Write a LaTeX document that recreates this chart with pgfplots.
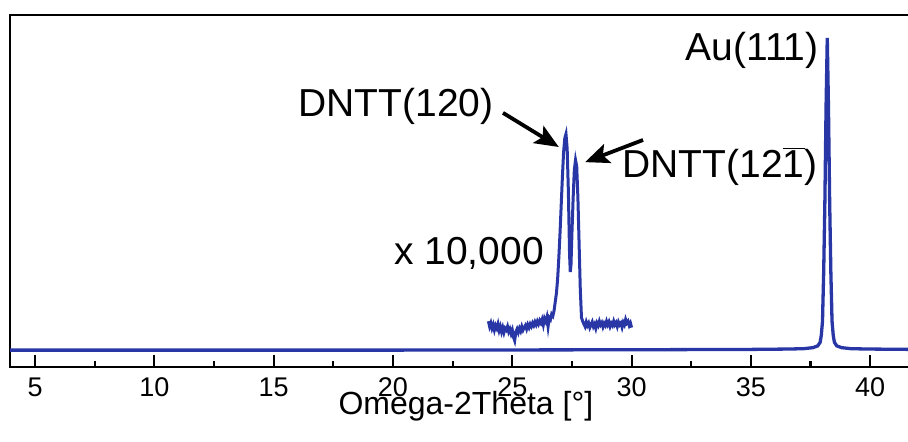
\documentclass[border=0pt]{standalone}
\usepackage{fontspec}
\setmainfont{Liberation Sans}
\usepackage{pgfplots}
\pgfplotsset{compat=1.18}
\usetikzlibrary{arrows.meta,calc}
\definecolor{XrdBlue}{RGB}{40,55,165}
\tikzset{
    annot/.style={font=\fontsize{19.5}{22}\selectfont, anchor=base},
    pointer/.style={-{Stealth[length=12pt,width=10pt,inset=2.5pt]}, line width=1.9pt},
}
\begin{document}
\begin{tikzpicture}
\begin{axis}[
    scale only axis,
    width=450.5pt, height=176pt,
    xmin=3.95, xmax=41.71, ymin=0, ymax=1,
    axis line style={line width=1.2pt},
    xtick={5,10,...,40}, minor x tick num=1,
    xtick pos=bottom, tick align=inside,
    ytick=\empty,
    major tick length=6pt, minor tick length=3pt,
    every tick/.style={black, line width=1.1pt},
    /pgf/number format/assume math mode=true,
    xticklabel={\mbox{\fontsize{13.5}{15}\selectfont\pgfmathprintnumber{\tick}}},
    xticklabel style={anchor=north, yshift=-2pt},
    xlabel={Omega-2Theta [°]},
    xlabel style={font=\fontsize{16}{19}\selectfont, at={(axis description cs:0.506,0)}, anchor=base, yshift=-23.5pt},
]
% full scan with Au(111)
\addplot[XrdBlue, line width=1.65pt] coordinates {
    (3.90,0.048) (10,0.048) (20,0.048) (30,0.049) (35,0.050) (36.5,0.051)
    (37.2,0.052) (37.6,0.055) (37.8,0.060) (37.9,0.070) (37.95,0.09)
    (38.0,0.13) (38.05,0.27) (38.1,0.47) (38.15,0.74) (38.2,0.935)
    (38.25,0.74) (38.3,0.47) (38.35,0.27) (38.4,0.13) (38.45,0.09)
    (38.5,0.070) (38.6,0.060) (38.8,0.055) (39.2,0.052) (40,0.051) (41.8,0.050)
};
% DNTT region, x 10,000
\addplot[XrdBlue, line width=1.5pt] coordinates {
    (24.00,0.13) (24.05,0.115) (24.10,0.125) (24.15,0.11) (24.20,0.12)
    (24.25,0.105) (24.30,0.118) (24.35,0.11) (24.40,0.122) (24.45,0.104)
    (24.50,0.115) (24.55,0.10) (24.60,0.112) (24.65,0.098) (24.70,0.11)
    (24.75,0.105) (24.80,0.115) (24.85,0.10) (24.90,0.108) (24.95,0.095)
    (25.00,0.105) (25.05,0.085) (25.10,0.075) (25.15,0.10) (25.20,0.108)
    (25.25,0.098) (25.30,0.11) (25.35,0.102) (25.40,0.115) (25.45,0.105)
    (25.50,0.112) (25.55,0.118) (25.60,0.108) (25.65,0.12) (25.70,0.112)
    (25.75,0.122) (25.80,0.115) (25.85,0.125) (25.90,0.118) (25.95,0.128)
    (26.00,0.12) (26.05,0.13) (26.10,0.122) (26.15,0.132) (26.20,0.125)
    (26.25,0.135) (26.30,0.12) (26.35,0.138) (26.40,0.13) (26.45,0.142)
    (26.50,0.115) (26.55,0.14) (26.60,0.135) (26.65,0.15) (26.70,0.145)
    (26.75,0.16) (26.80,0.185) (26.85,0.21) (26.90,0.25) (26.95,0.31)
    (27.00,0.38) (27.05,0.46) (27.10,0.54) (27.15,0.61) (27.20,0.65)
    (27.25,0.662) (27.30,0.62) (27.35,0.50) (27.40,0.32) (27.43,0.27)
    (27.46,0.29) (27.50,0.38) (27.55,0.48) (27.60,0.56) (27.65,0.588)
    (27.70,0.57) (27.75,0.48) (27.80,0.35) (27.85,0.22) (27.90,0.14)
    (27.95,0.13) (28.00,0.122) (28.05,0.115) (28.10,0.128) (28.15,0.118)
    (28.20,0.125) (28.25,0.112) (28.30,0.12) (28.35,0.128) (28.40,0.115)
    (28.45,0.122) (28.50,0.11) (28.55,0.125) (28.60,0.118) (28.65,0.13)
    (28.70,0.12) (28.75,0.126) (28.80,0.114) (28.85,0.124) (28.90,0.118)
    (28.95,0.13) (29.00,0.12) (29.05,0.128) (29.10,0.115) (29.15,0.124)
    (29.20,0.118) (29.25,0.13) (29.30,0.12) (29.35,0.126) (29.40,0.115)
    (29.45,0.128) (29.50,0.12) (29.55,0.125) (29.60,0.113) (29.65,0.127)
    (29.70,0.12) (29.75,0.135) (29.80,0.125) (29.85,0.13) (29.90,0.118)
    (29.95,0.125) (30.00,0.112)
};
\node[annot] at (axis cs:20.13,0.711) {DNTT(120)};
\node[annot] at (axis cs:23.19,0.290) {x 10,000};
\node[annot] at (axis cs:33.71,0.537) {DNTT(12\ensuremath{\overline{\mbox{1}}})};
\node[annot] at (axis cs:35.05,0.872) {Au(111)};
\draw[pointer] (axis cs:24.61,0.722) -- (axis cs:26.95,0.625);
\draw[pointer] (axis cs:30.48,0.645) -- (axis cs:28.05,0.582);
\coordinate (sw) at (rel axis cs:0,0);
\end{axis}
\pgfresetboundingbox
\path ($(sw)+(-5pt,-37pt)$) rectangle ($(sw)+(449pt,183.5pt)$);
\end{tikzpicture}
\end{document}
